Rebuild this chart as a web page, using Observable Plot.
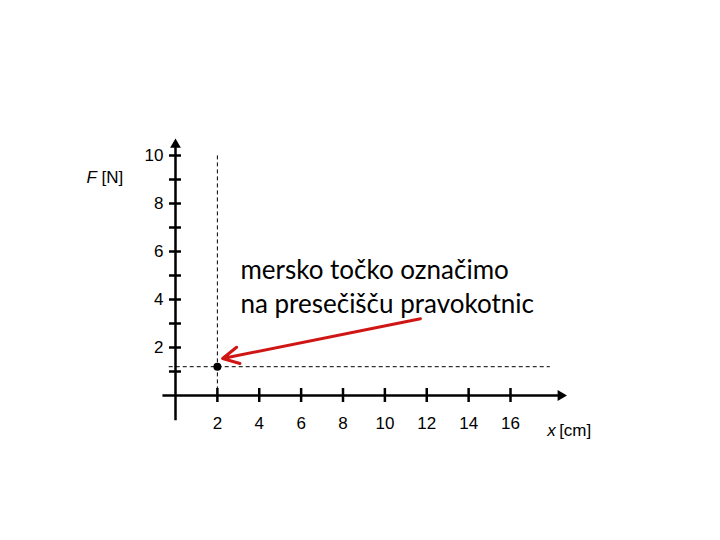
<!DOCTYPE html>
<html>
<head>
<meta charset="utf-8">
<script src="https://cdn.jsdelivr.net/npm/d3@7"></script>
<script src="https://cdn.jsdelivr.net/npm/@observablehq/plot@0.6"></script>
<style>
  html, body { margin: 0; padding: 0; background: #fff; }
</style>
</head>
<body>
<div id="chart"></div>
<script>
// ---- data ----
const xTicks = [2, 4, 6, 8, 10, 12, 14, 16];
const yMajor = [2, 4, 6, 8, 10];
const yMinor = [1, 3, 5, 7, 9];
const point = [{x: 2, y: 1.2}];
const xAxisExtent = [{x1: -0.6, x2: 18.4}];
const yAxisExtent = [{y1: -1.05, y2: 10.45}];
const guideV = [{x: 2, y1: -0.1, y2: 10.1}];
const guideH = [{y: 1.2, x1: -0.3, x2: 17.9}];
const pointer = [{x1: 11.7, y1: 3.2, x2: 2.25, y2: 1.54}];
const note = [{x: 3.1, y: 4.6, text: "mersko točko označimo\nna presečišču pravokotnic"}];
const yLabelParts = [{x: -4.25, y: 9.08, italic: "F", plain: "[N]"}];
const xLabelParts = [{x: 17.75, y: -1.46, italic: "x", plain: "[cm]"}];

const chart = Plot.plot({
  width: 720,
  height: 540,
  marginTop: 0, marginRight: 0, marginBottom: 0, marginLeft: 0,
  x: {domain: [0, 16], range: [175, 510], axis: null},
  y: {domain: [0, 10], range: [395, 155], axis: null},
  style: {fontFamily: "'Liberation Sans', Arial, sans-serif", background: "#fff"},
  marks: [
    // dashed guides
    Plot.ruleX(guideV, {x: "x", y1: "y1", y2: "y2", stroke: "#000", strokeWidth: 1, strokeDasharray: "4,3"}),
    Plot.ruleY(guideH, {y: "y", x1: "x1", x2: "x2", stroke: "#000", strokeWidth: 1, strokeDasharray: "4,3"}),
    // axes lines
    Plot.ruleY(xAxisExtent, {y: 0, x1: "x1", x2: "x2", stroke: "#000", strokeWidth: 2.5}),
    Plot.ruleX(yAxisExtent, {x: 0, y1: "y1", y2: "y2", stroke: "#000", strokeWidth: 2.5}),
    // axis arrowheads
    Plot.dot(xAxisExtent, {x: "x2", y: 0, symbol: "triangle", r: 4, fill: "#000", stroke: null, rotate: 90}),
    Plot.dot(yAxisExtent, {x: 0, y: "y2", symbol: "triangle", r: 4, fill: "#000", stroke: null}),
    // tick marks
    Plot.ruleX(xTicks, {x: d => d, y1: 0, y2: 0, insetTop: -7, insetBottom: -7, stroke: "#000", strokeWidth: 2.5}),
    Plot.ruleY(yMajor.concat(yMinor), {y: d => d, x1: 0, x2: 0, insetLeft: -6, insetRight: -6, stroke: "#000", strokeWidth: 2.5}),
    // tick labels
    Plot.text(xTicks, {x: d => d, y: 0, text: d => String(d), dy: 28, fontSize: 17, fill: "#000"}),
    Plot.text(yMajor, {x: 0, y: d => d, text: d => String(d), dx: -12, textAnchor: "end", fontSize: 17, fill: "#000"}),
    // axis titles
    Plot.text(yLabelParts, {x: "x", y: "y", text: "italic", textAnchor: "start", fontSize: 17, fontStyle: "italic", fill: "#000"}),
    Plot.text(yLabelParts, {x: "x", y: "y", text: "plain", textAnchor: "start", dx: 15, fontSize: 17, fill: "#000"}),
    Plot.text(xLabelParts, {x: "x", y: "y", text: "italic", textAnchor: "start", fontSize: 17, fontStyle: "italic", fill: "#000"}),
    Plot.text(xLabelParts, {x: "x", y: "y", text: "plain", textAnchor: "start", dx: 12, fontSize: 17, fill: "#000"}),
    // red pointer arrow
    Plot.arrow(pointer, {x1: "x1", y1: "y1", x2: "x2", y2: "y2", stroke: "#d01515", strokeWidth: 3, headLength: 9, headAngle: 55}),
    // measured point
    Plot.dot(point, {x: "x", y: "y", r: 4, fill: "#000", stroke: null}),
    // annotation
    Plot.text(note, {x: "x", y: "y", text: "text", textAnchor: "start", fontSize: 26, lineHeight: 1.31, fontFamily: "Lato, 'Open Sans', sans-serif", fill: "#000"})
  ]
});
document.getElementById("chart").appendChild(chart);
</script>
</body>
</html>
